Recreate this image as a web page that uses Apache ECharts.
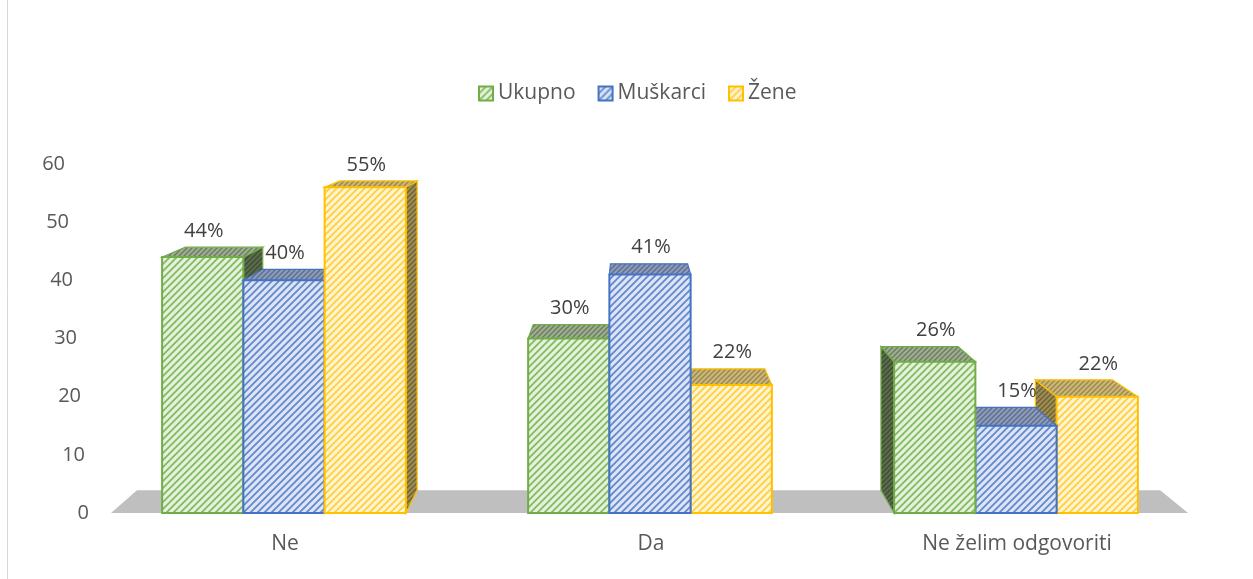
<!DOCTYPE html>
<html>
<head>
<meta charset="utf-8">
<script src="https://cdn.jsdelivr.net/npm/echarts@6/dist/echarts.min.js"></script>
<style>
  html, body { margin: 0; padding: 0; background: #fff; }
  #chart { width: 1253px; height: 579px; }
</style>
</head>
<body>
<div id="chart"></div>
<script>
// categories and values
const categories = ["Ne", "Da", "Ne želim odgovoriti"];
const seriesNames = ["Ukupno", "Muškarci", "Žene"];
const ukupno = [44, 30, 26];
const muskarci = [40, 41, 15];
const zene = [56, 22, 20];
const ukupnoLabels = ["44%", "30%", "26%"];
const muskarciLabels = ["40%", "41%", "15%"];
const zeneLabels = ["55%", "22%", "22%"];
const yMin = 0;
const yMax = 60;
const yStep = 10;

const FONT = '"Open Sans", "Noto Sans", sans-serif';
const DEPTH = 0.05; // share of the way towards the vanishing point

function makePattern(bg, fg, size, lw) {
  const c = document.createElement("canvas");
  c.width = size;
  c.height = size;
  const ctx = c.getContext("2d");
  ctx.fillStyle = bg;
  ctx.fillRect(0, 0, size, size);
  ctx.strokeStyle = fg;
  ctx.lineWidth = lw;
  ctx.beginPath();
  ctx.moveTo(0, size);
  ctx.lineTo(size, 0);
  ctx.moveTo(-2, 2);
  ctx.lineTo(2, -2);
  ctx.moveTo(size - 2, size + 2);
  ctx.lineTo(size + 2, size - 2);
  ctx.stroke();
  return { image: c, repeat: "repeat" };
}

const palette = [
  {
    line: "#70ad47",
    front: makePattern("#e4f1dc", "#84bb60", 7, 1.8),
    top: makePattern("#9fae93", "#6b7d5c", 5, 1.4),
    side: makePattern("#5c6d4d", "#3e4c31", 5, 1.4),
  },
  {
    line: "#4472c4",
    front: makePattern("#dce5f5", "#6488cc", 7, 1.8),
    top: makePattern("#8f9cb6", "#5b6d95", 5, 1.4),
    side: makePattern("#56647f", "#3a4965", 5, 1.4),
  },
  {
    line: "#ffc000",
    front: makePattern("#fff4d0", "#ffcf40", 7, 1.8),
    top: makePattern("#cbb77e", "#9c8845", 5, 1.4),
    side: makePattern("#9e8d55", "#6f6030", 5, 1.4),
  },
];

const seriesValues = [ukupno, muskarci, zene];
const seriesLabels = [ukupnoLabels, muskarciLabels, zeneLabels];

function vanishing(api) {
  const left = api.coord([0, 0])[0];
  const right = api.coord([categories.length - 1, 0])[0];
  return [(left + right) / 2 - 20, api.coord([0, yMax])[1] - 104];
}

function renderBar(params, api) {
  const si = params.seriesIndex;
  const cat = api.value(0);
  const val = api.value(1);
  const base = api.coord([cat, 0]);
  const top = api.coord([cat, val]);
  const band = api.size([1, 0])[0];
  const barW = band * 0.222;
  const x0 = base[0] + (si - 1.5) * barW - 1;
  const x1 = x0 + barW;
  const yT = top[1];
  const yB = base[1];
  const [vx, vy] = vanishing(api);
  const P = (x, y) => [x + DEPTH * (vx - x), y + DEPTH * (vy - y)];
  const pal = palette[si];
  const rank = Math.round(2000 - Math.abs((x0 + x1) / 2 - vx)) * 3;
  const children = [];

  if (x1 < vx) {
    children.push({
      type: "polygon",
      shape: { points: [[x1, yT], [x1, yB], P(x1, yB), P(x1, yT)] },
      style: { fill: pal.side, stroke: pal.line, lineWidth: 1.2 },
      z2: rank,
    });
  } else if (x0 > vx) {
    children.push({
      type: "polygon",
      shape: { points: [[x0, yT], [x0, yB], P(x0, yB), P(x0, yT)] },
      style: { fill: pal.side, stroke: pal.line, lineWidth: 1.2 },
      z2: rank,
    });
  }
  children.push({
    type: "polygon",
    shape: { points: [[x0, yT], [x1, yT], P(x1, yT), P(x0, yT)] },
    style: { fill: pal.top, stroke: pal.line, lineWidth: 1.2 },
    z2: rank + 1,
  });
  children.push({
    type: "rect",
    shape: { x: x0, y: yT, width: barW, height: yB - yT },
    style: { fill: pal.front, stroke: pal.line, lineWidth: 2 },
    z2: rank + 2,
  });
  children.push({
    type: "text",
    x: (x0 + x1) / 2 + 1,
    y: P(x0, yT)[1] - 6,
    style: {
      text: seriesLabels[si][params.dataIndex],
      fill: "#404040",
      fontSize: 20,
      fontFamily: FONT,
      align: "center",
      verticalAlign: "bottom",
    },
    z2: 100000,
  });
  return { type: "group", children };
}

function renderFloor(params, api) {
  const band = api.size([1, 0])[0];
  const first = api.coord([0, 0]);
  const last = api.coord([categories.length - 1, 0]);
  const [vx, vy] = vanishing(api);
  const P = (x, y) => [x + DEPTH * (vx - x), y + DEPTH * (vy - y)];
  const fx0 = first[0] - band / 2 + 9;
  const fx1 = last[0] + band / 2 - 12;
  const y = first[1];
  return {
    type: "polygon",
    shape: { points: [[fx0, y], [fx1, y], P(fx1, y), P(fx0, y)] },
    style: { fill: "#bfbfbf" },
    z2: -1000,
  };
}

const chart = echarts.init(document.getElementById("chart"));

const rich = {};
for (let v = yMin; v <= yMax; v += yStep) {
  rich["t" + v / yStep] = {
    fontSize: 20,
    fontFamily: FONT,
    color: "#595959",
    padding: [0, (v / yStep) * 4, 0, 0],
  };
}

chart.setOption({
  backgroundColor: "#ffffff",
  animation: false,
  graphic: [
    {
      type: "line",
      shape: { x1: 7.5, y1: 0, x2: 7.5, y2: 579 },
      style: { stroke: "#d9d9d9", lineWidth: 1 },
    },
  ],
  legend: {
    data: seriesNames,
    top: 78,
    left: 473,
    icon: "rect",
    itemWidth: 14,
    itemHeight: 14,
    itemGap: 22,
    textStyle: { color: "#595959", fontSize: 21, fontFamily: FONT },
  },
  grid: { left: 102, right: 53, top: 164, bottom: 66 },
  xAxis: {
    type: "category",
    data: categories,
    axisLine: { show: false },
    axisTick: { show: false },
    axisLabel: { color: "#595959", fontSize: 21, fontFamily: FONT, margin: 21 },
  },
  yAxis: {
    type: "value",
    min: yMin,
    max: yMax,
    interval: yStep,
    axisLine: { show: false },
    axisTick: { show: false },
    splitLine: { show: false },
    axisLabel: {
      margin: 13,
      formatter: (v) => `{t${v / yStep}|${v}}`,
      rich,
    },
  },
  series: [
    ...seriesNames.map((name, i) => ({
      name,
      type: "custom",
      renderItem: renderBar,
      itemStyle: { color: palette[i].front, borderColor: palette[i].line, borderWidth: 1 },
      data: seriesValues[i].map((v, j) => [j, v]),
    })),
    {
      name: "floor",
      type: "custom",
      renderItem: renderFloor,
      silent: true,
      data: [[0, 0]],
    },
  ],
});
</script>
</body>
</html>
